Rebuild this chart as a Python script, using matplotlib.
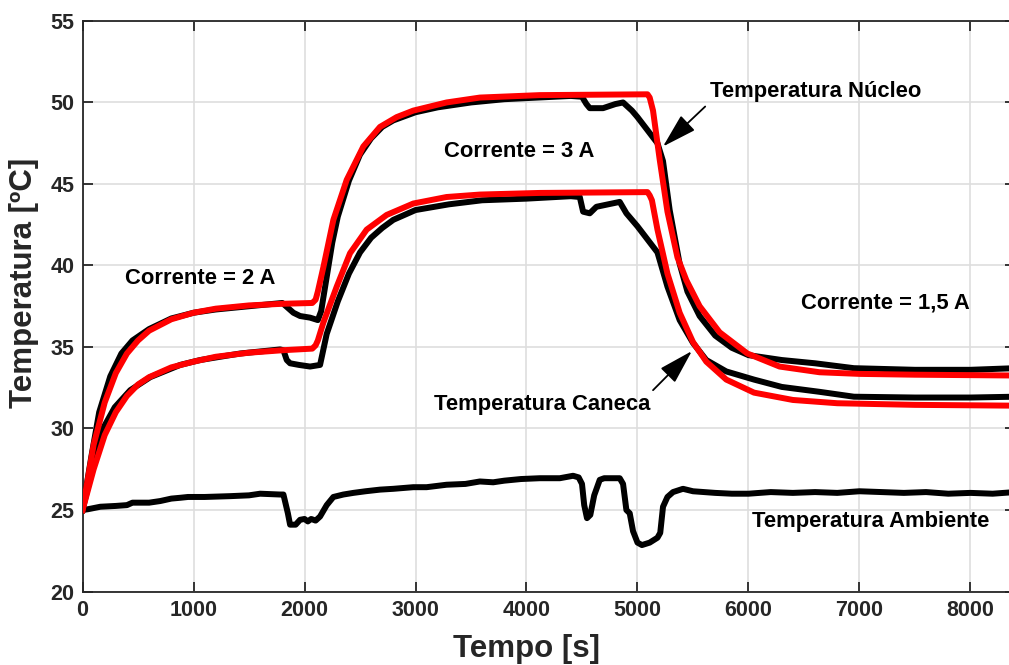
import matplotlib
matplotlib.use("Agg")
import matplotlib.pyplot as plt
import numpy as np

# ---------------- data ----------------
t_amb = [0, 50, 160, 300, 400, 450, 600, 700, 800, 880, 950, 1100, 1330, 1500, 1600, 1780, 1810,
         1850, 1870, 1920, 1960, 2000, 2030, 2060, 2100, 2140, 2200, 2260, 2350, 2440, 2550, 2680,
         2800, 2980, 3100, 3280, 3450, 3580, 3700, 3800, 3950, 4120, 4300, 4420, 4470, 4500, 4520,
         4545, 4575, 4610, 4660, 4700, 4840, 4870, 4900, 4930, 4960, 5000, 5040, 5110, 5180, 5205,
         5230, 5270, 5320, 5410, 5500, 5600, 5700, 5850, 6000, 6200, 6400, 6600, 6800, 7000, 7200,
         7400, 7600, 7800, 8000, 8200, 8400]
T_amb = [25.0, 25.05, 25.2, 25.25, 25.3, 25.45, 25.45, 25.55, 25.7, 25.75, 25.8, 25.8, 25.85, 25.9,
         26.0, 25.95, 25.95, 24.8, 24.1, 24.1, 24.4, 24.45, 24.3, 24.45, 24.35, 24.6, 25.3, 25.8,
         25.95, 26.05, 26.15, 26.25, 26.3, 26.4, 26.4, 26.55, 26.6, 26.75, 26.7, 26.8, 26.9, 26.95,
         26.95, 27.1, 27.0, 26.6, 25.3, 24.5, 24.7, 25.9, 26.85, 26.95, 26.95, 26.6, 25.0, 24.8,
         23.7, 23.0, 22.85, 23.0, 23.3, 23.6, 25.2, 25.8, 26.1, 26.3, 26.15, 26.1, 26.05, 26.0,
         26.0, 26.1, 26.05, 26.1, 26.05, 26.15, 26.1, 26.05, 26.1, 26.0, 26.05, 26.0, 26.1]

t_nuc = [0, 80, 150, 250, 350, 450, 600, 800, 1000, 1200, 1500, 1800, 1850, 1900, 1960, 2050,
         2120, 2150, 2200, 2250, 2300, 2400, 2500, 2600, 2700, 2800, 3000, 3200, 3500, 3800, 4100,
         4400, 4500, 4540, 4570, 4690, 4800, 4870, 4950, 5000, 5090, 5180, 5230, 5290, 5380, 5450,
         5560, 5700, 5850, 6000, 6300, 6600, 6950, 7500, 8000, 8400]
T_nuc = [25.0, 28.3, 31.0, 33.2, 34.6, 35.4, 36.1, 36.75, 37.1, 37.3, 37.5, 37.7, 37.4, 37.1,
         36.9, 36.8, 36.65, 37.2, 39.3, 41.4, 43.0, 45.2, 46.8, 47.8, 48.5, 48.9, 49.4, 49.7, 50.0,
         50.2, 50.3, 50.4, 50.35, 49.9, 49.65, 49.65, 49.9, 50.0, 49.5, 49.1, 48.3, 47.5, 46.4,
         43.4, 40.1, 38.4, 36.9, 35.7, 34.95, 34.5, 34.2, 34.0, 33.7, 33.6, 33.6, 33.7]

t_can = [0, 70, 160, 290, 430, 610, 880, 1060, 1420, 1780, 1810, 1840, 1870, 1950, 2050, 2140,
         2200, 2300, 2400, 2500, 2600, 2700, 2800, 3000, 3300, 3600, 4000, 4400, 4480, 4510, 4570,
         4630, 4840, 4900, 5000, 5090, 5180, 5270, 5380, 5500, 5620, 5800, 6050, 6300, 6640, 6950,
         7500, 8000, 8400]
T_can = [25.0, 27.0, 29.7, 31.3, 32.35, 33.15, 33.9, 34.2, 34.6, 34.85, 34.8, 34.2, 34.0, 33.9,
         33.8, 33.9, 35.8, 37.8, 39.5, 40.8, 41.7, 42.3, 42.8, 43.4, 43.75, 44.0, 44.1, 44.25, 44.2,
         43.3, 43.2, 43.6, 43.9, 43.2, 42.4, 41.6, 40.8, 38.7, 36.65, 35.25, 34.2, 33.5, 33.0,
         32.55, 32.25, 31.95, 31.9, 31.9, 31.95]

t_nuc_mod = [0, 100, 200, 300, 400, 500, 600, 800, 1000, 1200, 1500, 1800, 2070, 2100, 2120, 2170,
             2260, 2380, 2530, 2680, 2830, 2980, 3280, 3580, 4120, 5090, 5110, 5140, 5200, 5270,
             5360, 5440, 5560, 5740, 5990, 6280, 6640, 7000, 7500, 8400]
T_nuc_mod = [25.0, 29.0, 31.6, 33.4, 34.6, 35.4, 36.0, 36.7, 37.1, 37.35, 37.55, 37.65, 37.7, 37.9,
             38.4, 39.9, 42.8, 45.25, 47.3, 48.5, 49.1, 49.5, 50.0, 50.3, 50.45, 50.5, 50.3, 49.5,
             46.5, 43.3, 40.5, 39.1, 37.5, 35.9, 34.6, 33.8, 33.45, 33.35, 33.3, 33.25]

t_can_mod = [0, 100, 200, 300, 400, 500, 600, 800, 1000, 1200, 1500, 1800, 2070, 2100, 2120, 2170,
             2290, 2410, 2560, 2740, 2980, 3280, 3580, 4120, 5090, 5110, 5130, 5180, 5270, 5380,
             5500, 5620, 5800, 6050, 6400, 6800, 7500, 8400]
T_can_mod = [25.0, 27.5, 29.6, 31.0, 32.0, 32.7, 33.15, 33.75, 34.1, 34.4, 34.65, 34.8, 34.9, 35.1,
             35.4, 36.5, 38.7, 40.75, 42.2, 43.1, 43.8, 44.2, 44.35, 44.45, 44.5, 44.3, 44.0, 42.2,
             39.5, 37.1, 35.3, 34.1, 33.0, 32.2, 31.75, 31.55, 31.45, 31.4]

x_ticks = [0, 1000, 2000, 3000, 4000, 5000, 6000, 7000, 8000]
y_ticks = [20, 25, 30, 35, 40, 45, 50, 55]

# ---------------- figure ----------------
plt.rcParams['font.family'] = ['Liberation Sans', 'DejaVu Sans']
fig = plt.figure(figsize=(10.09, 6.65), dpi=100)
ax = fig.add_axes([0.0818, 0.1105, 0.924, 0.858])

lw = 4.3
ax.plot(t_amb, T_amb, color='black', lw=lw, solid_joinstyle='round', zorder=3)
ax.plot(t_nuc, T_nuc, color='black', lw=lw, solid_joinstyle='round', zorder=3)
ax.plot(t_can, T_can, color='black', lw=lw, solid_joinstyle='round', zorder=3)
ax.plot(t_nuc_mod, T_nuc_mod, color='#ff0000', lw=lw, solid_joinstyle='round', zorder=4)
ax.plot(t_can_mod, T_can_mod, color='#ff0000', lw=lw, solid_joinstyle='round', zorder=4)

ax.set_xlim(0, 8400)
ax.set_ylim(20, 55)
ax.set_xticks(x_ticks)
ax.set_yticks(y_ticks)
ax.grid(True, color='#dedede', lw=1.2)
ax.set_axisbelow(True)
ax.tick_params(direction='in', length=7, width=1.3, top=True, right=True,
               labelsize=15.5, colors='#262626', pad=6)
for lab in ax.get_xticklabels() + ax.get_yticklabels():
    lab.set_fontweight('bold')
for s in ax.spines.values():
    s.set_color('#262626')
    s.set_linewidth(1.3)

ax.set_xlabel('Tempo [s]', fontsize=22.5, fontweight='bold', color='#262626')
ax.set_ylabel('Temperatura [ºC]', fontsize=22.5, fontweight='bold', color='#262626')
ax.xaxis.set_label_coords(0.4757, -0.074)
ax.yaxis.set_label_coords(-0.047, 0.541)

tk = dict(fontsize=15.8, fontweight='bold', color='black', va='center', ha='left')
ax.text(380, 39.2, 'Corrente = 2 A', **tk)
ax.text(3260, 47.0, 'Corrente = 3 A', **tk)
ax.text(6470, 37.7, 'Corrente = 1,5 A', **tk)
ax.text(5650, 50.65, 'Temperatura Núcleo', **tk)
ax.text(3170, 31.45, 'Temperatura Caneca', **tk)
ax.text(6030, 24.3, 'Temperatura Ambiente', **tk)

ap = dict(arrowstyle='-|>,head_length=1.2,head_width=0.35', color='black', lw=1.3,
          shrinkA=0, shrinkB=0, mutation_scale=18)
ax.annotate('', xy=(5230, 47.3), xytext=(5610, 49.75), arrowprops=ap, zorder=6)
ax.annotate('', xy=(5490, 34.75), xytext=(5140, 32.35), arrowprops=ap, zorder=6)

fig.savefig('out.png', dpi=100)
